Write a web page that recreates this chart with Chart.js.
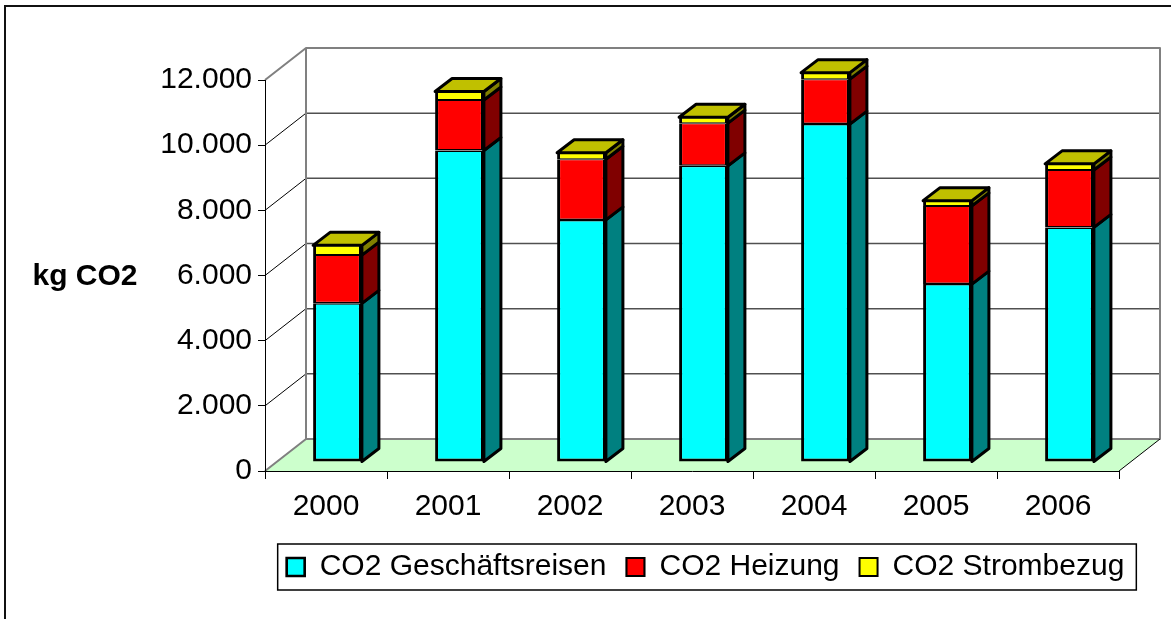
<!DOCTYPE html>
<html lang="de">
<head>
<meta charset="UTF-8">
<title>CO2 Emissionen 2000 - 2006</title>
<script src="https://cdn.jsdelivr.net/npm/chart.js"></script>
<style>
  body { margin: 0; background: #fff; }
  #wrap { width: 1171px; height: 619px; }
</style>
</head>
<body>
<div id="wrap"><canvas id="co2Chart" width="1171" height="619"></canvas></div>
<script>
const years = ['2000', '2001', '2002', '2003', '2004', '2005', '2006'];
const geschaeftsreisen = [4870, 9560, 7430, 9090, 10370, 5460, 7200];
const heizung = [1480, 1550, 1860, 1310, 1380, 2400, 1760];
const strombezug = [300, 260, 200, 180, 200, 160, 190];
const seriesNames = ['CO2 Geschäftsreisen', 'CO2 Heizung', 'CO2 Strombezug'];
const yTicks = [0, 2000, 4000, 6000, 8000, 10000, 12000];
const yTitle = 'kg CO2';

// colours: front, side and top faces
const frontColors = ['#00ffff', '#ff0000', '#ffff00'];
const sideColors = ['#008080', '#800000', '#808000'];
const topColors = ['#00c0c0', '#c00000', '#c0c000'];

// fake 3d geometry (pixels)
const wall = { x: 41, y: -32 };       // back wall offset
const shift = { x: 11.5, y: -9 };     // front face of the bars
const barDepth = { x: 17, y: -13 };
const legendShift = 146;

Chart.defaults.font.family = '"Liberation Sans", Arial, sans-serif';
Chart.defaults.color = '#000';

function fmt(v) {
    return String(v).replace(/\B(?=(\d{3})+(?!\d))/g, '.');
}

function path(ctx, pts, color, width, fill) {
    ctx.beginPath();
    ctx.moveTo(pts[0][0], pts[0][1]);
    for (let i = 1; i < pts.length; i++) ctx.lineTo(pts[i][0], pts[i][1]);
    if (fill) {
        ctx.closePath();
        ctx.fillStyle = fill;
        ctx.fill();
    }
    ctx.strokeStyle = color;
    ctx.lineWidth = width;
    ctx.stroke();
}

const box3d = {
    id: 'box3d',
    afterLayout(chart) {
        chart.legend.left += legendShift;
        chart.legend.right += legendShift;
        chart.legend.top += 2;
        chart.legend.bottom += 2;
    },
    beforeDraw(chart) {
        const { ctx, chartArea: a } = chart;
        const y = chart.scales.y;
        const y0 = y.getPixelForValue(0);
        const yTop = y.getPixelForValue(y.max);
        ctx.save();
        ctx.fillStyle = '#fff';
        ctx.fillRect(0, 0, chart.width, chart.height);
        ctx.strokeStyle = '#111';
        ctx.lineWidth = 2;
        ctx.strokeRect(5, 6, chart.width + 20, chart.height + 20);
        ctx.lineJoin = 'round';

        // floor
        ctx.beginPath();
        ctx.moveTo(a.left, y0);
        ctx.lineTo(a.right, y0);
        ctx.lineTo(a.right + wall.x, y0 + wall.y);
        ctx.lineTo(a.left + wall.x, y0 + wall.y);
        ctx.closePath();
        ctx.fillStyle = '#ccffcc';
        ctx.fill();

        // grid on back wall and left wall
        y.ticks.forEach(t => {
            if (t.value === 0 || t.value === y.max) return;
            const py = y.getPixelForValue(t.value);
            path(ctx, [[a.left + wall.x, py + wall.y], [a.right + wall.x, py + wall.y]], '#505050', 1.5);
            path(ctx, [[a.left, py], [a.left + wall.x, py + wall.y]], '#000', 1);
        });

        // wall frame
        path(ctx, [[a.left, y0], [a.left + wall.x, y0 + wall.y], [a.right + wall.x, y0 + wall.y],
                   [a.right + wall.x, yTop + wall.y], [a.left + wall.x, yTop + wall.y], [a.left, yTop]], '#808080', 2);
        path(ctx, [[a.left + wall.x, y0 + wall.y], [a.left + wall.x, yTop + wall.y]], '#808080', 2);
        path(ctx, [[a.right, y0], [a.right + wall.x, y0 + wall.y]], '#000', 1);
        ctx.restore();
    },
    beforeDatasetsDraw(chart) {
        chart.ctx.save();
        chart.ctx.translate(shift.x, shift.y);
    },
    afterDatasetsDraw(chart) {
        const ctx = chart.ctx;
        ctx.lineJoin = 'round';
        const last = chart.data.datasets.length - 1;
        chart.data.datasets.forEach((ds, i) => {
            chart.getDatasetMeta(i).data.forEach(bar => {
                const { x, y, base, width } = bar.getProps(['x', 'y', 'base', 'width'], true);
                const l = x - width / 2, r = x + width / 2;
                path(ctx, [[r, y], [r + barDepth.x, y + barDepth.y], [r + barDepth.x, base + barDepth.y], [r, base]],
                     '#000', 3, sideColors[i]);
                if (i === last) {
                    path(ctx, [[l, y], [l + barDepth.x, y + barDepth.y], [r + barDepth.x, y + barDepth.y], [r, y]],
                         '#000', 3, topColors[i]);
                }
            });
        });
        ctx.restore();
    },
    afterDraw(chart) {
        const ctx = chart.ctx;
        ctx.save();
        ctx.font = 'bold 30px "Liberation Sans", Arial, sans-serif';
        ctx.fillStyle = '#000';
        ctx.textAlign = 'center';
        ctx.textBaseline = 'alphabetic';
        ctx.fillText(yTitle, 85, 285);

        // legend frame
        const hb = chart.legend.legendHitBoxes;
        if (hb && hb.length) {
            const end = hb[hb.length - 1];
            const mid = hb[0].top + hb[0].height / 2;
            ctx.strokeStyle = '#000';
            ctx.lineWidth = 1.5;
            ctx.strokeRect(hb[0].left - 9, mid - 23, end.left + end.width + 21 - hb[0].left, 46);
        }
        ctx.restore();
    }
};

const series = [geschaeftsreisen, heizung, strombezug];
const borders = [
    { top: 1.5, bottom: 3, left: 3, right: 3 },
    { top: 1, bottom: 1.5, left: 3, right: 3 },
    { top: 1, bottom: 1, left: 3, right: 3 }
];

new Chart(document.getElementById('co2Chart'), {
    type: 'bar',
    data: {
        labels: years,
        datasets: series.map((d, i) => ({
            label: seriesNames[i],
            data: d,
            backgroundColor: frontColors[i],
            borderColor: '#000',
            borderWidth: borders[i],
            borderSkipped: false,
            barPercentage: 0.4,
            categoryPercentage: 1,
            clip: false
        }))
    },
    options: {
        responsive: false,
        animation: false,
        events: [],
        layout: { padding: { top: 80, right: 52, bottom: 29, left: 0 } },
        plugins: {
            tooltip: { enabled: false },
            legend: {
                position: 'bottom',
                labels: {
                    boxWidth: 18,
                    boxHeight: 18,
                    padding: 20,
                    color: '#000',
                    font: { size: 30 }
                }
            }
        },
        scales: {
            x: {
                stacked: true,
                ticks: { font: { size: 30 }, padding: 10, maxRotation: 0, autoSkip: false },
                grid: { drawOnChartArea: false, tickLength: 8, color: '#000', offset: true },
                border: { color: '#000', width: 1 },
                afterFit(s) { s.height = 59; }
            },
            y: {
                stacked: true,
                min: yTicks[0],
                max: yTicks[yTicks.length - 1],
                ticks: {
                    stepSize: yTicks[1] - yTicks[0],
                    font: { size: 30 },
                    padding: 6,
                    callback: v => fmt(v)
                },
                grid: { drawOnChartArea: false, tickLength: 7, color: '#000' },
                border: { color: '#000', width: 1 },
                afterFit(s) { s.width = 265; }
            }
        }
    },
    plugins: [box3d]
});
</script>
</body>
</html>
